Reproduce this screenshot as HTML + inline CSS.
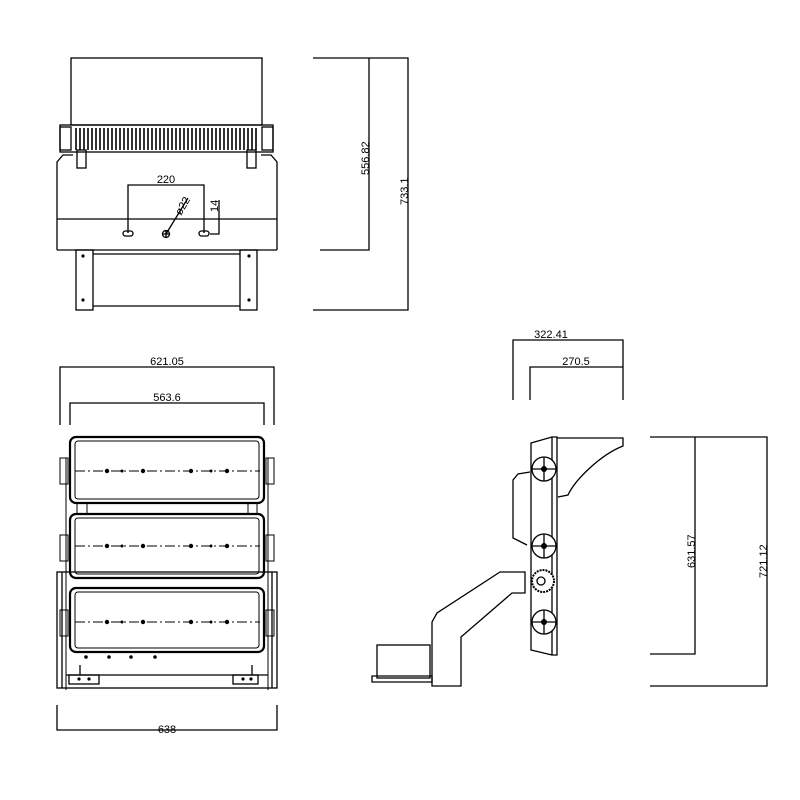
<!DOCTYPE html>
<html><head><meta charset="utf-8"><style>html,body{margin:0;padding:0;background:#fff}svg{display:block}</style></head>
<body>
<svg width="800" height="800" viewBox="0 0 800 800" xmlns="http://www.w3.org/2000/svg" font-family="Liberation Sans, sans-serif" font-size="11" fill="none" stroke="#000" stroke-width="1.3">
<!-- TOP VIEW -->
<rect x="71" y="58" width="191" height="67"/>
<rect x="60" y="125" width="213" height="27"/>
<rect x="60" y="127" width="11" height="23"/><rect x="262" y="127" width="11" height="23"/>
<g stroke-width="1.6">
<path d="M76 128V150M80 128V150M84 128V150M88 128V150M92 128V150M96 128V150M100 128V150M104 128V150M108 128V150M112 128V150M116 128V150M120 128V150M124 128V150M128 128V150M132 128V150M136 128V150M140 128V150M144 128V150M148 128V150M152 128V150M156 128V150M160 128V150M164 128V150M168 128V150M172 128V150M176 128V150M180 128V150M184 128V150M188 128V150M192 128V150M196 128V150M200 128V150M204 128V150M208 128V150M212 128V150M216 128V150M220 128V150M224 128V150M228 128V150M232 128V150M236 128V150M240 128V150M244 128V150M248 128V150M252 128V150M256 128V150"/>
</g>
<rect x="77" y="150" width="9" height="18"/><rect x="247" y="150" width="9" height="18"/>
<path d="M57 250V162l6-7h10M277 250V162l-6-7h-10M57 250H277"/>
<path d="M57 219H277"/>
<rect x="76" y="250" width="17" height="60"/><rect x="240" y="250" width="17" height="60"/>
<path d="M93 254H240M93 306H240"/>
<path d="M128 233V185H204V233M219 200V234H210"/>
<rect x="123" y="231" width="10" height="5" rx="2.5"/><rect x="199" y="231" width="10" height="5" rx="2.5"/>
<circle cx="166" cy="234" r="3.5"/><path d="M162 234h8M166 230v8M166 234L188 198"/>
<g fill="#000" stroke="none"><circle cx="83" cy="256" r="1.6"/><circle cx="83" cy="300" r="1.6"/><circle cx="249" cy="256" r="1.6"/><circle cx="249" cy="300" r="1.6"/></g>
<g fill="#000" stroke="none">
<text x="166" y="183" text-anchor="middle">220</text>
<text transform="translate(181,216) rotate(-60)">ø22</text>
<text transform="translate(218,212) rotate(-90)">14</text>
<text transform="translate(369,175) rotate(-90)">556.82</text>
<text transform="translate(408,205) rotate(-90)">733.1</text>
</g>
<path d="M313 58H408V310H313M320 250H369V58"/>
<!-- FRONT VIEW -->
<path d="M60 425V367H274V425M70 425V403H264V425M57 705V730H277V705"/>
<g fill="#000" stroke="none">
<text x="167" y="365" text-anchor="middle">621.05</text>
<text x="167" y="401" text-anchor="middle">563.6</text>
<text x="167" y="733" text-anchor="middle">638</text>
</g>
<rect x="57" y="572" width="220" height="116"/>
<path d="M62 572V688M272 572V688M66 675H268M80 665V675M252 665V675"/>
<rect x="69" y="675" width="30" height="9"/><rect x="233" y="675" width="25" height="9"/>
<g stroke-width="2.2">
<rect x="70" y="437" width="194" height="66" rx="6"/>
<rect x="70" y="514" width="194" height="64" rx="6"/>
<rect x="70" y="588" width="194" height="64" rx="6"/>
</g>
<g stroke-width="1">
<rect x="75" y="441" width="184" height="58" rx="3"/>
<rect x="75" y="518" width="184" height="56" rx="3"/>
<rect x="75" y="592" width="184" height="56" rx="3"/>
<path d="M77 503V514M87 503V514M248 503V514M257 503V514M66 458V690M268 458V690"/>
<rect x="60" y="458" width="8" height="26"/><rect x="266" y="458" width="8" height="26"/>
<rect x="60" y="535" width="8" height="26"/><rect x="266" y="535" width="8" height="26"/>
<rect x="60" y="610" width="8" height="26"/><rect x="266" y="610" width="8" height="26"/>
<path d="M75 471H260M75 546H260M75 622H260" stroke-dasharray="10 3 2 3"/>
</g>
<g fill="#000" stroke="none">
<circle cx="107" cy="471" r="2.2"/><circle cx="122" cy="471" r="1.5"/><circle cx="143" cy="471" r="2.2"/><circle cx="191" cy="471" r="2.2"/><circle cx="211" cy="471" r="1.5"/><circle cx="227" cy="471" r="2.2"/>
<circle cx="107" cy="546" r="2.2"/><circle cx="122" cy="546" r="1.5"/><circle cx="143" cy="546" r="2.2"/><circle cx="191" cy="546" r="2.2"/><circle cx="211" cy="546" r="1.5"/><circle cx="227" cy="546" r="2.2"/>
<circle cx="107" cy="622" r="2.2"/><circle cx="122" cy="622" r="1.5"/><circle cx="143" cy="622" r="2.2"/><circle cx="191" cy="622" r="2.2"/><circle cx="211" cy="622" r="1.5"/><circle cx="227" cy="622" r="2.2"/>
<circle cx="86" cy="657" r="1.8"/><circle cx="109" cy="657" r="1.8"/><circle cx="131" cy="657" r="1.8"/><circle cx="155" cy="657" r="1.8"/>
<circle cx="79" cy="679" r="1.6"/><circle cx="89" cy="679" r="1.6"/><circle cx="243" cy="679" r="1.6"/><circle cx="251" cy="679" r="1.6"/>
</g>
<!-- SIDE VIEW -->
<path d="M513 400V340H623V400M530 400V367H623"/>
<g fill="#000" stroke="none">
<text x="551" y="338" text-anchor="middle">322.41</text>
<text x="576" y="365" text-anchor="middle">270.5</text>
<text transform="translate(695,568) rotate(-90)">631.57</text>
<text transform="translate(767,578) rotate(-90)">721.12</text>
</g>
<path d="M650 437H767V686H650M650 654H695V437"/>
<path d="M531 443L552 437H557V655H552L531 650Z"/>
<path d="M552 437V655"/>
<path d="M557 438H623V446C600 455 575 480 568 495L558 497"/>
<path d="M530 472L518 474L513 480V538L527 545"/>
<g fill="#fff"><circle cx="544" cy="469" r="12"/><circle cx="544" cy="546" r="12"/><circle cx="544" cy="622" r="12"/></g>
<path d="M532 469H556M544 457V481M532 546H556M544 534V558M532 622H556M544 610V634"/>
<g fill="#000" stroke="none"><circle cx="544" cy="469" r="3"/><circle cx="544" cy="546" r="3"/><circle cx="544" cy="622" r="3"/></g>
<path d="M525 572H500L437 613L432 622V686H461V637L512 593H525Z"/>
<circle cx="543" cy="581" r="11" fill="#fff" stroke-dasharray="2 1" stroke-width="2"/>
<circle cx="541" cy="581" r="4"/>
<rect x="377" y="645" width="53" height="33"/>
<path d="M372 676H432V682H372Z"/>
</svg>
</body></html>
